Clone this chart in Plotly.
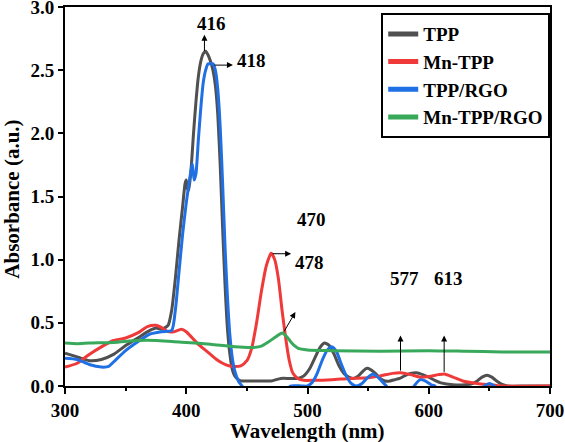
import plotly.graph_objects as go

# ---------------- data ----------------
tpp_wl = [300, 310, 320, 330, 340, 350, 360, 370, 375, 380, 385, 388, 391, 394, 397, 399, 400, 401, 402, 404,
          406, 408, 410, 412, 414, 416, 418, 420, 422, 424, 426, 428, 430, 432, 434, 436, 438, 440, 443, 446,
          450, 460, 470, 478, 485, 492, 497, 502, 506, 510, 514, 518, 522, 526, 530, 534, 538, 542, 546, 549,
          552, 556, 560, 564, 568, 572, 576, 580, 585, 590, 595, 600, 605, 610, 620, 630, 636, 640, 644, 648,
          652, 656, 660, 665, 680, 700]
tpp_abs = [0.26, 0.23, 0.20, 0.21, 0.25, 0.32, 0.38, 0.44, 0.46, 0.45, 0.48, 0.60, 0.85, 1.15, 1.42, 1.60, 1.63, 1.56, 1.55, 1.72,
           2.00, 2.25, 2.45, 2.57, 2.63, 2.65, 2.62, 2.57, 2.50, 2.38, 2.15, 1.75, 1.25, 0.80, 0.45, 0.25, 0.13, 0.08, 0.05, 0.04,
           0.04, 0.04, 0.04, 0.06, 0.06, 0.06, 0.08, 0.14, 0.22, 0.30, 0.34, 0.32, 0.25, 0.16, 0.10, 0.07, 0.06, 0.08, 0.12, 0.14,
           0.13, 0.10, 0.06, 0.04, 0.04, 0.05, 0.06, 0.08, 0.10, 0.105, 0.09, 0.07, 0.045, 0.025, 0.01, 0.01, 0.02, 0.04, 0.07, 0.085,
           0.07, 0.04, 0.015, 0.0, 0.0, 0.0]

mntpp_wl = [300, 310, 320, 330, 340, 350, 360, 368, 375, 380, 385, 390, 396, 400, 405, 410, 415, 420, 425, 430,
            435, 440, 445, 450, 454, 458, 462, 466, 470, 473, 476, 479, 482, 485, 488, 492, 497, 505, 520, 535,
            550, 560, 570, 577, 585, 593, 600, 608, 613, 620, 628, 640, 650, 660, 700]
mntpp_abs = [0.15, 0.18, 0.25, 0.31, 0.36, 0.38, 0.42, 0.47, 0.48, 0.46, 0.43, 0.43, 0.45, 0.43, 0.38, 0.33, 0.29, 0.25, 0.21, 0.18,
             0.16, 0.155, 0.16, 0.20, 0.30, 0.50, 0.75, 0.95, 1.05, 1.00, 0.85, 0.60, 0.38, 0.20, 0.10, 0.06, 0.045, 0.045, 0.05, 0.06,
             0.065, 0.08, 0.10, 0.105, 0.09, 0.07, 0.075, 0.09, 0.095, 0.07, 0.04, 0.02, 0.01, 0.0, 0.0]

tpprgo_wl = [300, 310, 320, 330, 336, 340, 350, 360, 370, 380, 388, 391, 394, 397, 400, 403, 405, 406.5, 408, 410,
             412, 414, 416, 418, 420, 422, 424, 426, 428, 430, 432, 434, 436, 438, 440, 443, 446, 449, 465, 482,
             486, 495, 500, 504, 508, 512, 516, 520, 524, 528, 532, 536, 540, 545, 550, 554, 558, 562, 565, 568,
             576, 585, 588, 593, 597, 602, 605, 608, 625, 643, 646, 650, 654, 657]
tpprgo_abs = [0.22, 0.21, 0.17, 0.15, 0.155, 0.19, 0.28, 0.35, 0.41, 0.43, 0.44, 0.60, 0.90, 1.20, 1.45, 1.65, 1.76, 1.63, 1.68, 1.95,
              2.20, 2.40, 2.50, 2.55, 2.55, 2.55, 2.50, 2.35, 2.05, 1.60, 1.10, 0.70, 0.40, 0.22, 0.12, 0.04, 0.0, -0.06, None, -0.06,
              0.0, 0.0, 0.0, 0.03, 0.10, 0.20, 0.28, 0.31, 0.27, 0.17, 0.08, 0.02, 0.0, 0.02, 0.07, 0.095, 0.07, 0.03, 0.0, -0.05,
              None, -0.05, 0.0, 0.05, 0.04, 0.01, 0.0, -0.05, None, -0.03, 0.0, 0.02, 0.0, -0.03]

mntpprgo_wl = [300, 310, 320, 340, 360, 375, 390, 400, 420, 440, 455, 462, 468, 474, 479, 483, 487, 492, 500, 520,
               560, 600, 630, 660, 700]
mntpprgo_abs = [0.34, 0.335, 0.34, 0.345, 0.36, 0.36, 0.35, 0.345, 0.33, 0.31, 0.305, 0.315, 0.35, 0.39, 0.42, 0.39, 0.34, 0.30, 0.285, 0.28,
                0.275, 0.28, 0.275, 0.27, 0.27]

series_names = ["TPP", "Mn-TPP", "TPP/RGO", "Mn-TPP/RGO"]
series_colors = ["#505050", "#f03a3a", "#1f6fe5", "#38a95b"]

x_title = "Wavelength (nm)"
y_title = "Absorbance (a.u.)"

# peak labels
label_text = ["416", "418", "470", "478", "577", "613"]
label_x = [421, 453.5, 503.5, 501.5, 579.7, 616]
label_y = [2.87, 2.58, 1.32, 0.975, 0.85, 0.85]

# arrows: tail -> head
arrow_x0 = [415, 422, 470, 480, 576.7, 612.7]
arrow_y0 = [2.64, 2.54, 1.047, 0.42, 0.11, 0.10]
arrow_x1 = [415, 438.5, 486.5, 490, 576.7, 612.7]
arrow_y1 = [2.78, 2.54, 1.047, 0.585, 0.40, 0.40]

FONT = "Liberation Serif"

fig = go.Figure()
xs = [tpp_wl, mntpp_wl, tpprgo_wl, mntpprgo_wl]
ys = [tpp_abs, mntpp_abs, tpprgo_abs, mntpprgo_abs]
for name, col, x, y in zip(series_names, series_colors, xs, ys):
    fig.add_trace(go.Scatter(x=x, y=y, mode="lines", name=name, showlegend=False,
                             line=dict(color=col, width=3, shape="spline", smoothing=0.6),
                             connectgaps=False))
# legend entries with thicker sample lines
for name, col in zip(series_names, series_colors):
    fig.add_trace(go.Scatter(x=[None], y=[None], mode="lines", name=name,
                             line=dict(color=col, width=5)))

for t, x, y in zip(label_text, label_x, label_y):
    fig.add_annotation(x=x, y=y, xref="x", yref="y", text=t, showarrow=False,
                       font=dict(family=FONT, size=19, color="black", weight="bold"))
for x0, y0, x1, y1 in zip(arrow_x0, arrow_y0, arrow_x1, arrow_y1):
    fig.add_annotation(x=x1, y=y1, xref="x", yref="y", ax=x0, ay=y0, axref="x", ayref="y",
                       text="", showarrow=True, arrowhead=2, arrowsize=1.2, arrowwidth=1,
                       arrowcolor="black", standoff=0, startstandoff=0)

axis_font = dict(family=FONT, size=19, color="black", weight="bold")
title_font = dict(family=FONT, size=21, color="black", weight="bold")

# axis titles
fig.add_annotation(x=0.5, y=-0.118, xref="paper", yref="paper", text=x_title, showarrow=False,
                   xanchor="center", yanchor="middle", font=title_font)
fig.add_annotation(x=-0.111, y=0.492, xref="paper", yref="paper", text=y_title, showarrow=False,
                   textangle=-90, xanchor="center", yanchor="middle", font=title_font)

fig.update_layout(
    width=565, height=442,
    margin=dict(l=65, r=15, t=7, b=56, autoexpand=False),
    paper_bgcolor="white", plot_bgcolor="white",
    font=dict(family=FONT, color="black"),
    xaxis=dict(range=[300, 700], dtick=100, tick0=300, ticks="outside", ticklen=6, tickwidth=2,
               tickcolor="black", showline=True, linecolor="black", linewidth=2, mirror=True,
               showgrid=False, zeroline=False, tickfont=axis_font, automargin=False,
               ticklabeloverflow="allow",
               minor=dict(dtick=50, ticks="outside", ticklen=3, tickwidth=2, tickcolor="black", showgrid=False)),
    yaxis=dict(range=[0, 3], dtick=0.5, tick0=0, tickformat=".1f", ticks="outside", ticklen=5, tickwidth=2,
               tickcolor="black", showline=True, linecolor="black", linewidth=2, mirror=True,
               showgrid=False, zeroline=False, tickfont=axis_font, automargin=False,
               ticklabeloverflow="allow"),
    legend=dict(x=0.652, y=0.984, xanchor="left", yanchor="top", bordercolor="black", borderwidth=2,
                bgcolor="white", font=dict(family=FONT, size=19, color="black", weight="bold"),
                tracegroupgap=0, itemwidth=30),
)

fig.write_html("out.html", config={"displayModeBar": False},
               post_script="document.body.style.margin='0px';document.body.style.overflow='hidden';")
